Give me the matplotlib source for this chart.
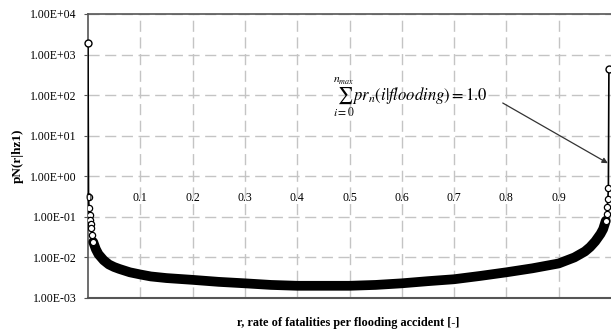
import numpy as np
import matplotlib
matplotlib.use('Agg')
import matplotlib.pyplot as plt

# r 값과 pN(r|hz1) 값
r = [0.0, 0.001, 0.002, 0.003, 0.004, 0.005, 0.0065, 0.008, 0.01, 0.015,
     0.02, 0.03, 0.04, 0.05, 0.06, 0.08, 0.10, 0.12, 0.15, 0.20,
     0.25, 0.30, 0.35, 0.40, 0.45, 0.50, 0.55, 0.60, 0.65, 0.70,
     0.75, 0.80, 0.85, 0.90, 0.93, 0.95, 0.96, 0.97, 0.98, 0.985,
     0.99, 0.992, 0.993, 0.994, 0.995, 0.996]
pN = [1950, 0.30, 0.17, 0.11, 0.085, 0.068, 0.052, 0.035, 0.024, 0.016,
      0.012, 0.0085, 0.0067, 0.0058, 0.0052, 0.0043, 0.0038, 0.0034, 0.0031, 0.0028,
      0.0025, 0.0023, 0.0021, 0.0020, 0.0020, 0.0020, 0.0021, 0.0023, 0.0026, 0.0029,
      0.0035, 0.0043, 0.0054, 0.0071, 0.0100, 0.014, 0.018, 0.025, 0.038, 0.05,
      0.08, 0.12, 0.18, 0.28, 0.50, 440]

xticks = [0, 0.1, 0.2, 0.3, 0.4, 0.5, 0.6, 0.7, 0.8, 0.9]
xticklabels = ['0', '0.1', '0.2', '0.3', '0.4', '0.5', '0.6', '0.7', '0.8', '0.9']
yticks = [1e-3, 1e-2, 1e-1, 1e0, 1e1, 1e2, 1e3, 1e4]
yticklabels = ['1.00E-03', '1.00E-02', '1.00E-01', '1.00E+00',
               '1.00E+01', '1.00E+02', '1.00E+03', '1.00E+04']

plt.rcParams['font.family'] = ['Liberation Serif', 'DejaVu Serif']
plt.rcParams['mathtext.fontset'] = 'stix'

fig = plt.figure(figsize=(6.11, 3.34), dpi=100)
ax = fig.add_axes([88/611, 1-298/334, 1-88/611, (298-14)/334])
ax.set_yscale('log')
ax.set_xlim(0, 1.0)
ax.set_ylim(1e-3, 1e4)

# 격자 (세로 격자는 직접 그림 -> x 눈금 글자를 곡선 위에 두기 위해)
grid_style = dict(color='#c4c4c4', lw=1, linestyle=(0, (8, 4)))
ax.grid(True, axis='y', **grid_style)
ax.set_axisbelow(True)
ax.vlines(xticks[1:], 1e-3, 1e4, zorder=1, **grid_style)

# 곡선 (얇은 선 + 두꺼운 띠 + 양 끝 원형 마커)
ax.plot(r, pN, color='black', lw=1.2, zorder=3)
ax.plot(r[8:-5], pN[8:-5], color='black', lw=7, solid_capstyle='round', zorder=4)
ax.plot(r[1:9], pN[1:9], 'o', ms=4.5, mfc='white', mec='black', mew=0.9, zorder=5)
ax.plot(r[-6:-1], pN[-6:-1], 'o', ms=4.5, mfc='white', mec='black', mew=0.9, zorder=5)
ax.plot([r[0], r[-1]], [pN[0], pN[-1]], 'o', ms=5, mfc='white', mec='black', mew=1, zorder=6, clip_on=False)

# 축 설정 (x축은 1.0 위치에서 교차)
ax.spines['bottom'].set_position(('data', 1.0))
ax.spines['bottom'].set_visible(False)
ax.spines['right'].set_visible(False)
ax.spines['left'].set_color('#555555')
ax.spines['top'].set_color('#555555')
ax.spines['left'].set_linewidth(1.2)
ax.spines['top'].set_linewidth(1.2)
ax.axhline(1e-3, color='#555555', lw=1.5, zorder=2, clip_on=False)

ax.set_xticks(xticks)
ax.set_xticklabels(xticklabels)
ax.set_yticks(yticks)
ax.set_yticklabels(yticklabels)
ax.minorticks_off()
ax.tick_params(axis='x', length=0, labelsize=8.5, pad=11)
ax.tick_params(axis='y', length=3, labelsize=8.5, color='#555555', pad=5)
ax.xaxis.set_zorder(7)

ax.set_ylabel('pN(r|hz1)', fontsize=9.5, fontweight='bold', labelpad=5)
fig.text(348/611, 1-323/334, 'r, rate of fatalities per flooding accident [-]',
         ha='center', va='center', fontsize=8.8, fontweight='bold')

# 주석
ax.text(0.617, 90, r'$\sum_{i=0}^{n_{max}} pr_{n}\left(i|flooding\right) = 1.0$',
        ha='center', va='center', fontsize=12)
ax.annotate('', xy=(0.994, 2.1), xytext=(0.793, 64),
            arrowprops=dict(arrowstyle='-|>', color='#333333', lw=0.9,
                            shrinkA=0, shrinkB=0, mutation_scale=8))

fig.savefig('out.png', dpi=100)
